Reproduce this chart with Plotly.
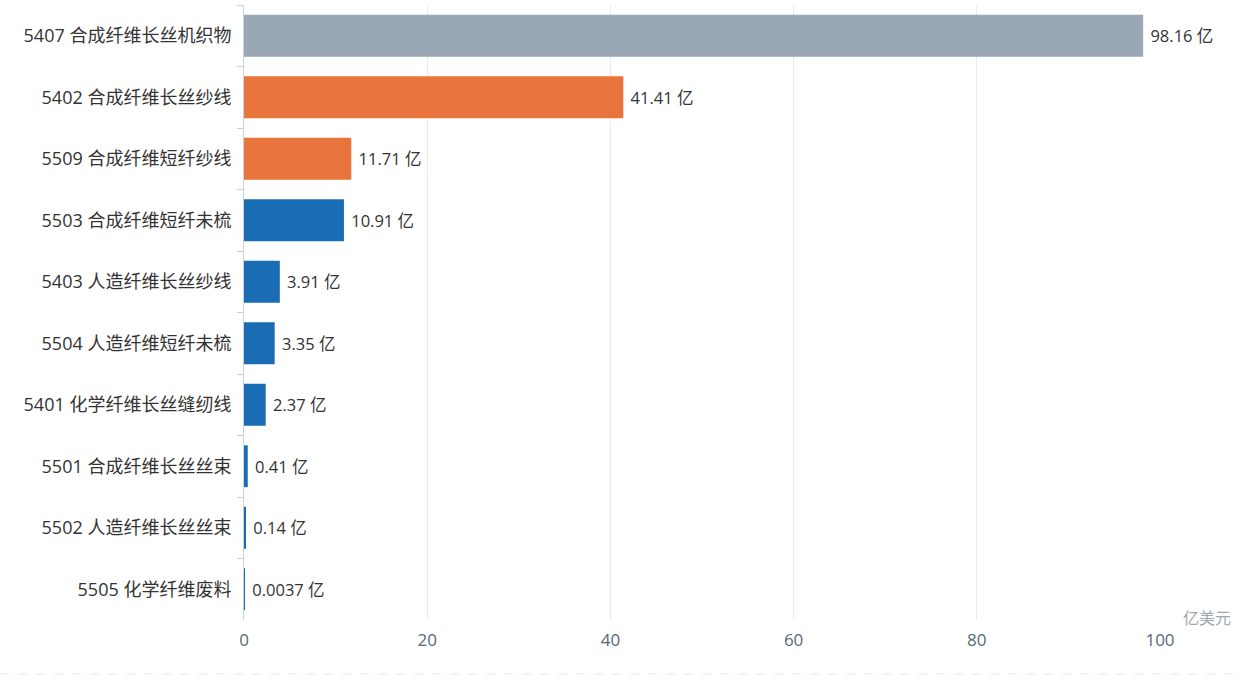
import plotly.graph_objects as go

categories = [
    '5407 合成纤维长丝机织物',
    '5402 合成纤维长丝纱线',
    '5509 合成纤维短纤纱线',
    '5503 合成纤维短纤未梳',
    '5403 人造纤维长丝纱线',
    '5504 人造纤维短纤未梳',
    '5401 化学纤维长丝缝纫线',
    '5501 合成纤维长丝丝束',
    '5502 人造纤维长丝丝束',
    '5505 化学纤维废料',
]
values = [98.16, 41.41, 11.71, 10.91, 3.91, 3.35, 2.37, 0.41, 0.14, 0.0037]
groups = ['gray', 'orange', 'orange', 'blue', 'blue', 'blue', 'blue', 'blue', 'blue', 'blue']

palette = {'gray': '#9aa7b4', 'orange': '#e8743b', 'blue': '#1a6db5'}
FONT = 'Open Sans, Noto Sans CJK SC'


def main():
    labels = [' {:g} 亿'.format(v) for v in values]
    fig = go.Figure(go.Bar(
        x=values,
        y=categories,
        orientation='h',
        marker={'color': [palette[g] for g in groups], 'line': {'width': 0}},
        text=labels,
        textposition='outside',
        textfont={'family': FONT, 'size': 16.5, 'color': '#333333'},
        cliponaxis=False,
        hoverinfo='x+y',
    ))

    fig.update_layout(
        width=1249, height=682,
        margin={'l': 244, 'r': 89, 't': 5, 'b': 62},
        paper_bgcolor='white', plot_bgcolor='white',
        bargap=0.32,
        showlegend=False,
        font={'family': FONT},
        xaxis={
            'range': [0, 100],
            'tickvals': [0, 20, 40, 60, 80, 100],
            'showgrid': True, 'gridcolor': '#e8ebef', 'gridwidth': 1,
            'zeroline': False, 'showline': False,
            'tickfont': {'family': FONT, 'size': 17, 'color': '#5c6773'},
            'ticks': '', 'ticklen': 0,
            'ticklabelstandoff': 8,
        },
        yaxis={
            'autorange': 'reversed',
            'showgrid': False, 'zeroline': False,
            'showline': True, 'linecolor': '#c9d3de', 'linewidth': 1,
            'ticks': 'outside', 'tickson': 'boundaries', 'ticklen': 6,
            'tickcolor': '#c9d3de',
            'ticklabelstandoff': 8,
            'tickfont': {'family': FONT, 'size': 18, 'color': '#333333'},
        },
        annotations=[{
            'text': '亿美元', 'xref': 'paper', 'yref': 'paper',
            'x': 1.023, 'y': 0.003, 'xanchor': 'left', 'yanchor': 'middle',
            'showarrow': False,
            'font': {'family': FONT, 'size': 16, 'color': '#9aa7b4'},
        }],
        shapes=[{
            'type': 'line', 'xref': 'paper', 'yref': 'paper',
            'x0': -0.266, 'x1': 1.082, 'y0': -0.0878, 'y1': -0.0878,
            'line': {'color': '#e3e6ea', 'width': 1, 'dash': 'dash'},
        }],
    )

    fig.write_html('out.html', config={'displayModeBar': False},
                   post_script="document.body.style.margin='0px';")


if __name__ == '__main__':
    main()
